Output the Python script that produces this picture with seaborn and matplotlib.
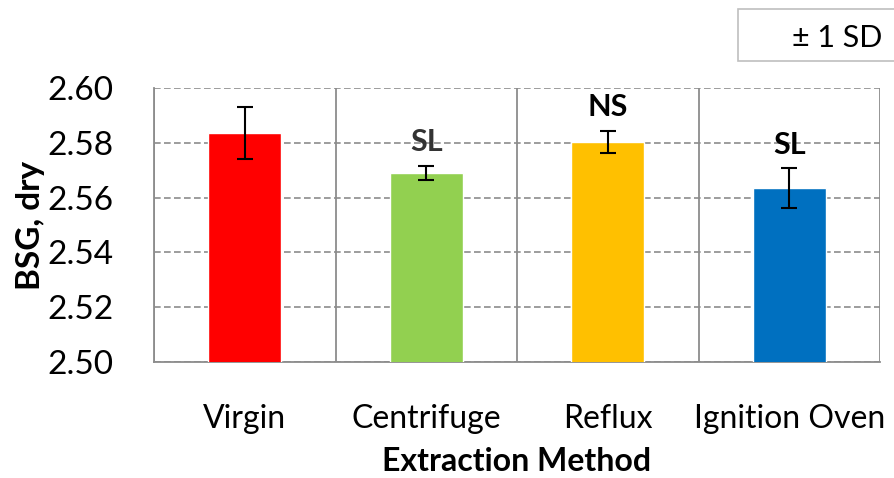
import numpy as np
import pandas as pd
import matplotlib
matplotlib.use("Agg")
import matplotlib.pyplot as plt
import seaborn as sns
from matplotlib.patches import Rectangle

methods = ["Virgin", "Centrifuge", "Reflux", "Ignition Oven"]
bsg = [2.5837, 2.5690, 2.5803, 2.5635]
sd = [0.0095, 0.0027, 0.0040, 0.0072]
sig = ["", "SL", "NS", "SL"]
colors = ["#FF0000", "#92D050", "#FFC000", "#0070C0"]

sns.set_style("white")
plt.rcParams["font.family"] = ["Lato", "DejaVu Sans"]
plt.rcParams["text.color"] = "black"

df = pd.DataFrame({"method": methods, "bsg": bsg})

fig = plt.figure(figsize=(8.94, 4.78), dpi=100)
ax = fig.add_axes([154 / 894, 1 - 362 / 478, 726 / 894, 274 / 478])

sns.barplot(data=df, x="method", y="bsg", hue="method", palette=colors,
            saturation=1, width=0.4, legend=False, ax=ax, errorbar=None, zorder=3)
ax.errorbar(np.arange(len(methods)), bsg, yerr=sd, fmt="none", ecolor="black",
            elinewidth=1.5, capsize=6, capthick=1.5, zorder=4)

for i, s in enumerate(sig):
    if s:
        top = bsg[i] + sd[i]
        ax.text(i, top + 0.0035, s, ha="center", va="bottom", fontsize=22,
                fontweight="bold", color="#333333" if i == 1 else "black")

ax.set_ylim(2.50, 2.60)
ax.set_xlim(-0.5, 3.5)
ax.set_yticks(np.arange(2.50, 2.601, 0.02))
ax.set_yticklabels([f"{v:.2f}" for v in np.arange(2.50, 2.601, 0.02)])
ax.yaxis.grid(True, color="#8c8c8c", linestyle=(0, (4, 2)), linewidth=1.2, zorder=0)
ax.set_xticks(np.arange(-0.5, 3.6, 1.0), minor=True)
ax.xaxis.grid(True, which="minor", color="#8c8c8c", linestyle="-", linewidth=1.3, zorder=0)
ax.xaxis.grid(False, which="major")
ax.set_axisbelow(True)

ax.tick_params(axis="x", which="major", length=0, pad=30, labelsize=23, labelcolor="black")
ax.tick_params(axis="x", which="minor", length=10, color="#8c8c8c", width=1.3)
ax.tick_params(axis="y", length=11, color="#8c8c8c", width=1.3, labelsize=24,
               pad=18, labelcolor="black")

for s in ["top", "right"]:
    ax.spines[s].set_visible(False)
for s in ["left", "bottom"]:
    ax.spines[s].set_color("#8c8c8c")
    ax.spines[s].set_linewidth(1.3)

ax.set_xlabel("Extraction Method", fontsize=23, fontweight="bold", color="black")
ax.xaxis.set_label_coords(0.5, -0.312)
ax.set_ylabel("BSG, dry", fontsize=24, fontweight="bold", labelpad=2, color="black")

# legend box for error bars
fig.patches.append(Rectangle((738 / 894, 1 - 61 / 478), 200 / 894, 52 / 478,
                             transform=fig.transFigure, facecolor="white",
                             edgecolor="#bfbfbf", linewidth=1.2))
fig.text(792 / 894, 1 - 38 / 478, "± 1 SD", fontsize=22, va="center", ha="left")

fig.savefig("out.png", dpi=100)
